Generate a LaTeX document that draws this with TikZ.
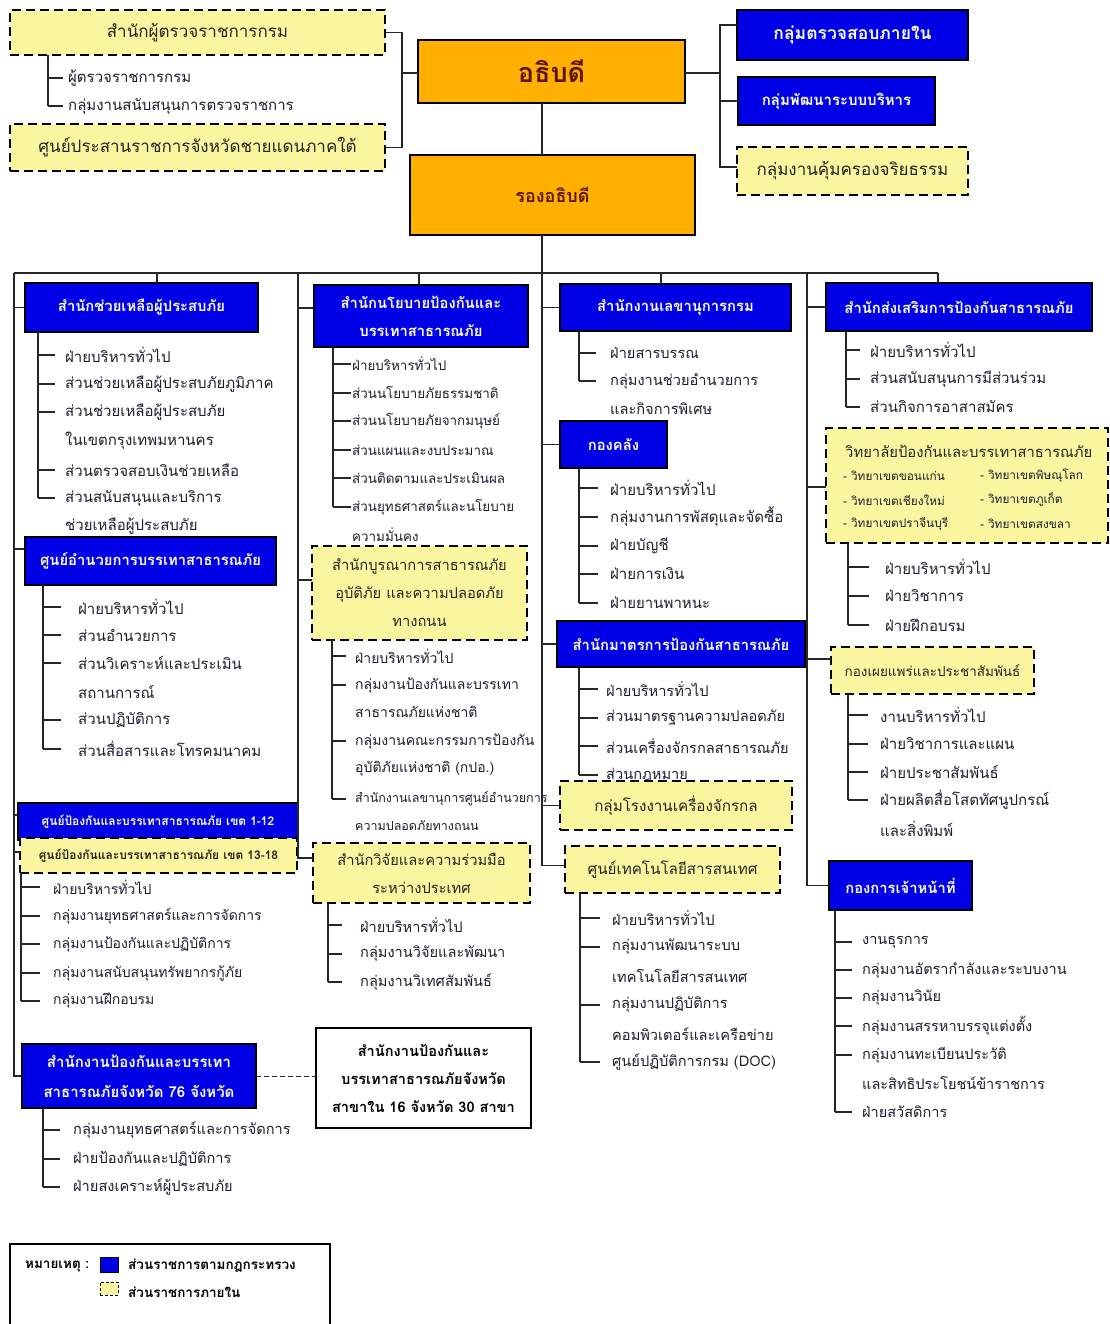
\documentclass[tikz,border=0pt]{standalone}
\usepackage{fontspec}
\setmainfont[Script=Thai]{Loma}
\usetikzlibrary{calc}
\definecolor{dblue}{RGB}{0,0,230}
\definecolor{orng}{RGB}{255,175,0}
\definecolor{lyel}{RGB}{250,246,160}
\definecolor{maroonc}{RGB}{90,20,0}
\definecolor{txtc}{RGB}{30,30,50}
\newcommand\itmsz{15}
\tikzset{
 bluebox/.style={draw=black, line width=2.5pt, fill=dblue, text=white, font=\bfseries\fontsize{14.8}{28}\selectfont, align=center},
 yelbox/.style={draw=black, line width=2pt, dash pattern=on 9pt off 5pt, fill=lyel, text=black!85, font=\fontsize{14.7}{28}\selectfont, align=center},
 orgbox/.style={draw=black, line width=2.5pt, fill=orng, text=maroonc, font=\bfseries},
 whitebox/.style={draw=black, line width=2.5pt, fill=white, text=black, font=\bfseries\fontsize{14.6}{28}\selectfont, align=center},
 itm/.style={anchor=west, inner sep=0pt, text=txtc, font=\fontsize{\itmsz}{18}\selectfont},
 conn/.style={draw=black!85, line width=1.1pt},
}
\newcommand\mkbox[7]{%
  \pgfmathsetmacro\mkw{#5-#3}\pgfmathsetmacro\mkh{#6-#4}%
  \pgfmathsetmacro\mkx{(#3+#5)/2}\pgfmathsetmacro\mky{(#4+#6)/2}%
  \node[#2, minimum width=\mkw pt, minimum height=\mkh pt, inner sep=0pt, outer sep=0pt] (#1) at (\mkx,\mky) {#7};}
\newcommand\itm[4]{\node[itm] (#1) at (#2,#3) {#4};}
\newcommand\tk[3]{\draw[conn] (#2 |- #1.west) -- ([xshift=-#3pt]#1.west);}
\begin{document}
\begin{tikzpicture}[x=1pt,y=-1pt]
\useasboundingbox (0,0) rectangle (1109,1324);
\fill[white] (0,0) rectangle (1109,1324);

% ---------- top ----------
\mkbox{tA}{yelbox, font=\fontsize{17}{20}\selectfont}{10}{10}{385}{55}{สำนักผู้ตรวจราชการกรม}
\mkbox{tB}{yelbox, font=\fontsize{17}{20}\selectfont}{10}{124}{385}{171}{ศูนย์ประสานราชการจังหวัดชายแดนภาคใต้}
\mkbox{dir}{orgbox, font=\bfseries\fontsize{27}{30}\selectfont}{418}{40}{685}{103}{อธิบดี}
\mkbox{dep}{orgbox, font=\bfseries\fontsize{18}{20}\selectfont}{410}{155}{695}{235}{รองอธิบดี}
\mkbox{rA}{bluebox, font=\bfseries\fontsize{17.5}{20}\selectfont}{737}{10}{968}{60}{กลุ่มตรวจสอบภายใน}
\mkbox{rB}{bluebox, font=\bfseries\fontsize{15}{17}\selectfont}{738}{77}{935}{125}{กลุ่มพัฒนาระบบบริหาร}
\mkbox{rC}{yelbox, font=\fontsize{17}{20}\selectfont}{737}{147}{968}{195}{กลุ่มงานคุ้มครองจริยธรรม}

\coordinate (brT) at (48,55);
\itm{t1}{68}{78}{ผู้ตรวจราชการกรม}
\itm{t2}{68}{106}{กลุ่มงานสนับสนุนการตรวจราชการ}
\draw[conn] (brT) -- (brT |- t2.west);
\tk{t1}{brT}{5}\tk{t2}{brT}{5}

\coordinate (lj) at (402,73);
\draw[conn] (tA.east) -| (lj) |- (tB.east);
\draw[conn] (lj) -- (lj -| dir.west);
\coordinate (rj) at (720,73);
\draw[conn] (dir.east |- rj) -- (rj);
\draw[conn] ([yshift=10pt]rA.west) -| (rj) |- ([yshift=4pt]rC.west);
\draw[conn] (rj |- rB.west) -- (rB.west);

% ---------- bus ----------
\coordinate (bus1) at (14,273);
\coordinate (bus2) at (298,273);
\coordinate (bus3) at (542,273);
\coordinate (bus4) at (807,273);
\coordinate (busE) at (938,273);
\draw[conn] (bus3 |- dir.south) -- (bus3 |- dep.north);
\draw[conn] (bus3 |- dep.south) -- (bus3);
\draw[conn] (bus1) -- (busE);

% ---------- column 1 ----------
\mkbox{A}{bluebox}{25}{283}{258}{332}{สำนักช่วยเหลือผู้ประสบภัย}
\coordinate (tA1) at (157,273);
\draw[conn] (tA1) -- (tA1 |- A.north);
\coordinate (brA) at (38,332);
\itm{a1}{65}{355}{ฝ่ายบริหารทั่วไป}
\itm{a2}{65}{384}{ส่วนช่วยเหลือผู้ประสบภัยภูมิภาค}
\itm{a3}{65}{412}{ส่วนช่วยเหลือผู้ประสบภัย}
\itm{a3b}{65}{441}{ในเขตกรุงเทพมหานคร}
\itm{a4}{65}{470}{ส่วนตรวจสอบเงินช่วยเหลือ}
\itm{a5}{65}{498}{ส่วนสนับสนุนและบริการ}
\itm{a5b}{65}{526}{ช่วยเหลือผู้ประสบภัย}
\draw[conn] (brA) -- (brA |- a5.west);
\tk{a1}{brA}{10}\tk{a2}{brA}{10}\tk{a3}{brA}{10}\tk{a4}{brA}{10}\tk{a5}{brA}{10}

\mkbox{B}{bluebox}{25}{537}{276}{585}{ศูนย์อำนวยการบรรเทาสาธารณภัย}
\coordinate (brB) at (43,585);
\itm{b1}{78}{607}{ฝ่ายบริหารทั่วไป}
\itm{b2}{78}{635}{ส่วนอำนวยการ}
\itm{b3}{78}{663}{ส่วนวิเคราะห์และประเมิน}
\itm{b3b}{78}{692}{สถานการณ์}
\itm{b4}{78}{720}{ส่วนปฏิบัติการ}
\itm{b5}{78}{749}{ส่วนสื่อสารและโทรคมนาคม}
\draw[conn] (brB) -- (brB |- b5.west);
\tk{b1}{brB}{17}\tk{b2}{brB}{17}\tk{b3}{brB}{17}\tk{b4}{brB}{17}\tk{b5}{brB}{17}

\mkbox{C}{bluebox, font=\bfseries\fontsize{12}{14}\selectfont}{18}{803}{298}{840}{ศูนย์ป้องกันและบรรเทาสาธารณภัย เขต 1-12}
\mkbox{D}{yelbox, font=\bfseries\fontsize{12}{14}\selectfont}{20}{838}{297}{873}{ศูนย์ป้องกันและบรรเทาสาธารณภัย เขต 13-18}
\renewcommand\itmsz{14}
\coordinate (brD) at (21,873);
\itm{d1}{53}{887}{ฝ่ายบริหารทั่วไป}
\itm{d2}{53}{916}{กลุ่มงานยุทธศาสตร์และการจัดการ}
\itm{d3}{53}{944}{กลุ่มงานป้องกันและปฏิบัติการ}
\itm{d4}{53}{973}{กลุ่มงานสนับสนุนทรัพยากรกู้ภัย}
\itm{d5}{53}{1001}{กลุ่มงานฝึกอบรม}
\draw[conn] (brD) -- (brD |- d5.west);
\tk{d1}{brD}{13}\tk{d2}{brD}{13}\tk{d3}{brD}{13}\tk{d4}{brD}{13}\tk{d5}{brD}{13}

\renewcommand\itmsz{14.6}
\mkbox{E}{bluebox, font=\bfseries\fontsize{15}{30}\selectfont}{22}{1044}{256}{1108}{สำนักงานป้องกันและบรรเทา\\สาธารณภัยจังหวัด 76 จังหวัด}
\coordinate (brE) at (43,1108);
\itm{e1}{73}{1130}{กลุ่มงานยุทธศาสตร์และการจัดการ}
\itm{e2}{73}{1159}{ฝ่ายป้องกันและปฏิบัติการ}
\itm{e3}{73}{1187}{ฝ่ายสงเคราะห์ผู้ประสบภัย}
\draw[conn] (brE) -- (brE |- e3.west);
\tk{e1}{brE}{13}\tk{e2}{brE}{13}\tk{e3}{brE}{13}

\mkbox{F}{whitebox}{316}{1028}{531}{1128}{สำนักงานป้องกันและ\\บรรเทาสาธารณภัยจังหวัด\\สาขาใน 16 จังหวัด 30 สาขา}
\draw[conn, line width=0.9pt, dash pattern=on 5pt off 3pt] (E.east) -- (E.east -| F.west);

\draw[conn] (bus1) |- (E.west);
\draw[conn] (bus1 |- A.west) -- (A.west);
\draw[conn] (bus1 |- 0,549) -- (B.west |- 0,549);
\draw[conn] (bus1 |- 0,815) -- (C.west |- 0,815);
\draw[conn] (bus1 |- 0,852) -- (D.west |- 0,852);

% ---------- column 2 ----------
\mkbox{G}{bluebox}{314}{285}{528}{347}{สำนักนโยบายป้องกันและ\\บรรเทาสาธารณภัย}
\coordinate (tG1) at (419,273);
\draw[conn] (tG1) -- (tG1 |- G.north);
\renewcommand\itmsz{13.4}
\coordinate (brG) at (333,347);
\itm{g1}{352}{364}{ฝ่ายบริหารทั่วไป}
\itm{g2}{352}{393}{ส่วนนโยบายภัยธรรมชาติ}
\itm{g3}{352}{421}{ส่วนนโยบายภัยจากมนุษย์}
\itm{g4}{352}{450}{ส่วนแผนและงบประมาณ}
\itm{g5}{352}{478}{ส่วนติดตามและประเมินผล}
\itm{g6}{352}{507}{ส่วนยุทธศาสตร์และนโยบาย}
\itm{g6b}{352}{535}{ความมั่นคง}
\draw[conn] (brG) -- (brG |- g6.west);
\tk{g1}{brG}{1}\tk{g2}{brG}{1}\tk{g3}{brG}{1}\tk{g4}{brG}{1}\tk{g5}{brG}{1}\tk{g6}{brG}{1}

\mkbox{H}{yelbox}{312}{546}{527}{640}{สำนักบูรณาการสาธารณภัย\\อุบัติภัย และความปลอดภัย\\ทางถนน}
\renewcommand\itmsz{14}
\coordinate (brH) at (332,640);
\itm{h1}{355}{656}{ฝ่ายบริหารทั่วไป}
\itm{h2}{355}{685}{กลุ่มงานป้องกันและบรรเทา}
\itm{h2b}{355}{712}{สาธารณภัยแห่งชาติ}
\itm{h3}{355}{741}{กลุ่มงานคณะกรรมการป้องกัน}
\itm{h3b}{355}{769}{อุบัติภัยแห่งชาติ (กปอ.)}
\renewcommand\itmsz{12.5}
\itm{h4}{355}{799}{สำนักงานเลขานุการศูนย์อำนวยการ}
\itm{h4b}{355}{826}{ความปลอดภัยทางถนน}
\draw[conn] (brH) -- (brH |- h4.west);
\tk{h1}{brH}{9}\tk{h2}{brH}{9}\tk{h3}{brH}{9}\tk{h4}{brH}{9}

\mkbox{I}{yelbox}{313}{843}{530}{903}{สำนักวิจัยและความร่วมมือ\\ระหว่างประเทศ}
\renewcommand\itmsz{14.6}
\coordinate (brI) at (328,903);
\itm{i1}{360}{925}{ฝ่ายบริหารทั่วไป}
\itm{i2}{360}{954}{กลุ่มงานวิจัยและพัฒนา}
\itm{i3}{360}{982}{กลุ่มงานวิเทศสัมพันธ์}
\draw[conn] (brI) -- (brI |- i3.west);
\tk{i1}{brI}{18}\tk{i2}{brI}{18}\tk{i3}{brI}{18}

\draw[conn] (bus2) |- ([yshift=15pt]I.west);
\draw[conn] (bus2 |- 0,308) -- (G.west |- 0,308);
\draw[conn] (bus2 |- 0,580) -- (H.west |- 0,580);

% ---------- column 3 ----------
\mkbox{J}{bluebox}{560}{284}{791}{331}{สำนักงานเลขานุการกรม}
\coordinate (tJ1) at (661,273);
\draw[conn] (tJ1) -- (tJ1 |- J.north);
\coordinate (brJ) at (579,331);
\itm{j1}{610}{353}{ฝ่ายสารบรรณ}
\itm{j2}{610}{381}{กลุ่มงานช่วยอำนวยการ}
\itm{j2b}{610}{409}{และกิจการพิเศษ}
\draw[conn] (brJ) -- (brJ |- j2.west);
\tk{j1}{brJ}{14}\tk{j2}{brJ}{14}

\renewcommand\itmsz{15}
\mkbox{K}{bluebox}{560}{421}{667}{468}{กองคลัง}
\coordinate (brK) at (579,468);
\itm{k1}{610}{488}{ฝ่ายบริหารทั่วไป}
\itm{k2}{610}{517}{กลุ่มงานการพัสดุและจัดซื้อ}
\itm{k3}{610}{546}{ฝ่ายบัญชี}
\itm{k4}{610}{574}{ฝ่ายการเงิน}
\itm{k5}{610}{603}{ฝ่ายยานพาหนะ}
\draw[conn] (brK) -- (brK |- k5.west);
\tk{k1}{brK}{12}\tk{k2}{brK}{12}\tk{k3}{brK}{12}\tk{k4}{brK}{12}\tk{k5}{brK}{12}

\renewcommand\itmsz{14.6}
\mkbox{L}{bluebox}{557}{621}{805}{667}{สำนักมาตรการป้องกันสาธารณภัย}
\coordinate (brL) at (579,667);
\itm{l1}{606}{689}{ฝ่ายบริหารทั่วไป}
\itm{l2}{606}{718}{ส่วนมาตรฐานความปลอดภัย}
\itm{l3}{606}{746}{ส่วนเครื่องจักรกลสาธารณภัย}
\itm{l4}{606}{775}{ส่วนกฎหมาย}
\draw[conn] (brL) -- (brL |- l4.west);
\tk{l1}{brL}{8}\tk{l2}{brL}{8}\tk{l3}{brL}{8}\tk{l4}{brL}{8}

\mkbox{M}{yelbox, font=\fontsize{15.2}{18}\selectfont}{560}{781}{792}{830}{กลุ่มโรงงานเครื่องจักรกล}
\mkbox{N}{yelbox, font=\fontsize{15.2}{18}\selectfont}{565}{846}{780}{893}{ศูนย์เทคโนโลยีสารสนเทศ}
\coordinate (brN) at (580,893);
\itm{n1}{612}{918}{ฝ่ายบริหารทั่วไป}
\itm{n2}{612}{947}{กลุ่มงานพัฒนาระบบ}
\itm{n2b}{612}{976}{เทคโนโลยีสารสนเทศ}
\itm{n3}{612}{1005}{กลุ่มงานปฏิบัติการ}
\itm{n3b}{612}{1034}{คอมพิวเตอร์และเครือข่าย}
\itm{n4}{612}{1062}{ศูนย์ปฏิบัติการกรม (DOC)}
\draw[conn] (brN) -- (brN |- n4.west);
\tk{n1}{brN}{12}\tk{n2}{brN}{12}\tk{n3}{brN}{12}\tk{n4}{brN}{12}

\draw[conn] (bus3) |- ([yshift=4pt]N.west);
\draw[conn] (bus3 |- J.west) -- (J.west);
\draw[conn] (bus3 |- K.west) -- (K.west);
\draw[conn] (bus3 |- L.west) -- (L.west);
\draw[conn] (bus3 |- M.west) -- (M.west);

% ---------- column 4 ----------
\renewcommand\itmsz{15}
\mkbox{O}{bluebox}{826}{283}{1092}{331}{สำนักส่งเสริมการป้องกันสาธารณภัย}
\coordinate (tO1) at (938,273);
\draw[conn] (busE) -- (tO1 |- O.north);
\coordinate (brO) at (846,331);
\itm{o1}{870}{350}{ฝ่ายบริหารทั่วไป}
\itm{o2}{870}{379}{ส่วนสนับสนุนการมีส่วนร่วม}
\itm{o3}{870}{407}{ส่วนกิจการอาสาสมัคร}
\draw[conn] (brO) -- (brO |- o3.west);
\tk{o1}{brO}{10}\tk{o2}{brO}{10}\tk{o3}{brO}{10}

\mkbox{P}{yelbox}{826}{428}{1108}{543}{}
\node[itm, text=black!85, font=\fontsize{14.8}{17}\selectfont] (pT) at (845,451) {วิทยาลัยป้องกันและบรรเทาสาธารณภัย};
\node[itm, font=\fontsize{11.8}{13}\selectfont] (pc1) at (843,476) {- วิทยาเขตขอนแก่น};
\node[itm, font=\fontsize{11.8}{13}\selectfont] (pc2) at (980,476) {- วิทยาเขตพิษณุโลก};
\node[itm, font=\fontsize{11.8}{13}\selectfont] (pc3) at (843,500) {- วิทยาเขตเชียงใหม่};
\node[itm, font=\fontsize{11.8}{13}\selectfont] (pc4) at (980,500) {- วิทยาเขตภูเก็ต};
\node[itm, font=\fontsize{11.8}{13}\selectfont] (pc5) at (843,524) {- วิทยาเขตปราจีนบุรี};
\node[itm, font=\fontsize{11.8}{13}\selectfont] (pc6) at (980,524) {- วิทยาเขตสงขลา};
\coordinate (brP) at (848,543);
\itm{p1}{885}{567}{ฝ่ายบริหารทั่วไป}
\itm{p2}{885}{596}{ฝ่ายวิชาการ}
\itm{p3}{885}{625}{ฝ่ายฝึกอบรม}
\draw[conn] (brP) -- (brP |- p3.west);
\tk{p1}{brP}{16}\tk{p2}{brP}{16}\tk{p3}{brP}{16}

\mkbox{Q}{yelbox, font=\fontsize{13.5}{16}\selectfont}{831}{647}{1034}{694}{กองเผยแพร่และประชาสัมพันธ์}
\coordinate (brQ) at (848,694);
\itm{q1}{880}{715}{งานบริหารทั่วไป}
\itm{q2}{880}{744}{ฝ่ายวิชาการและแผน}
\itm{q3}{880}{772}{ฝ่ายประชาสัมพันธ์}
\itm{q4}{880}{800}{ฝ่ายผลิตสื่อโสตทัศนูปกรณ์}
\itm{q4b}{880}{829}{และสิ่งพิมพ์}
\draw[conn] (brQ) -- (brQ |- q4.west);
\tk{q1}{brQ}{12}\tk{q2}{brQ}{12}\tk{q3}{brQ}{12}\tk{q4}{brQ}{12}

\renewcommand\itmsz{14.5}
\mkbox{R}{bluebox}{829}{861}{972}{910}{กองการเจ้าหน้าที่}
\coordinate (brR) at (835,910);
\itm{r1}{862}{942}{งานธุรการ}
\itm{r2}{862}{970}{กลุ่มงานอัตรากำลังและระบบงาน}
\itm{r3}{862}{998}{กลุ่มงานวินัย}
\itm{r4}{862}{1026}{กลุ่มงานสรรหาบรรจุแต่งตั้ง}
\itm{r5}{862}{1055}{กลุ่มงานทะเบียนประวัติ}
\itm{r5b}{862}{1083}{และสิทธิประโยชน์ข้าราชการ}
\itm{r6}{862}{1112}{ฝ่ายสวัสดิการ}
\draw[conn] (brR) -- (brR |- r6.west);
\tk{r1}{brR}{10}\tk{r2}{brR}{10}\tk{r3}{brR}{10}\tk{r4}{brR}{10}\tk{r5}{brR}{10}\tk{r6}{brR}{10}

\draw[conn] (bus4) |- (R.west);
\draw[conn] (bus4 |- O.west) -- (O.west);
\draw[conn] (bus4 |- 0,487) -- (P.west |- 0,487);
\draw[conn] (bus4 |- 0,659) -- (Q.west |- 0,659);

% ---------- legend ----------
\draw[black, line width=2.5pt] (10,1335) |- (330,1244) -- (330,1335);
\node[itm, text=black, font=\bfseries\fontsize{13.5}{15}\selectfont] (lg0) at (25,1266) {หมายเหตุ :};
\mkbox{lgb}{draw=black, line width=0.8pt, fill=dblue}{100}{1257}{118}{1272}{}
\mkbox{lgy}{draw=black, line width=1pt, dash pattern=on 3pt off 2pt, fill=lyel}{100}{1282}{118}{1295}{}
\node[itm, text=black, font=\bfseries\fontsize{13.5}{15}\selectfont] (lg1) at (128,1266) {ส่วนราชการตามกฎกระทรวง};
\node[itm, text=black, font=\bfseries\fontsize{13.5}{15}\selectfont] (lg2) at (128,1292) {ส่วนราชการภายใน};
\end{tikzpicture}
\end{document}
